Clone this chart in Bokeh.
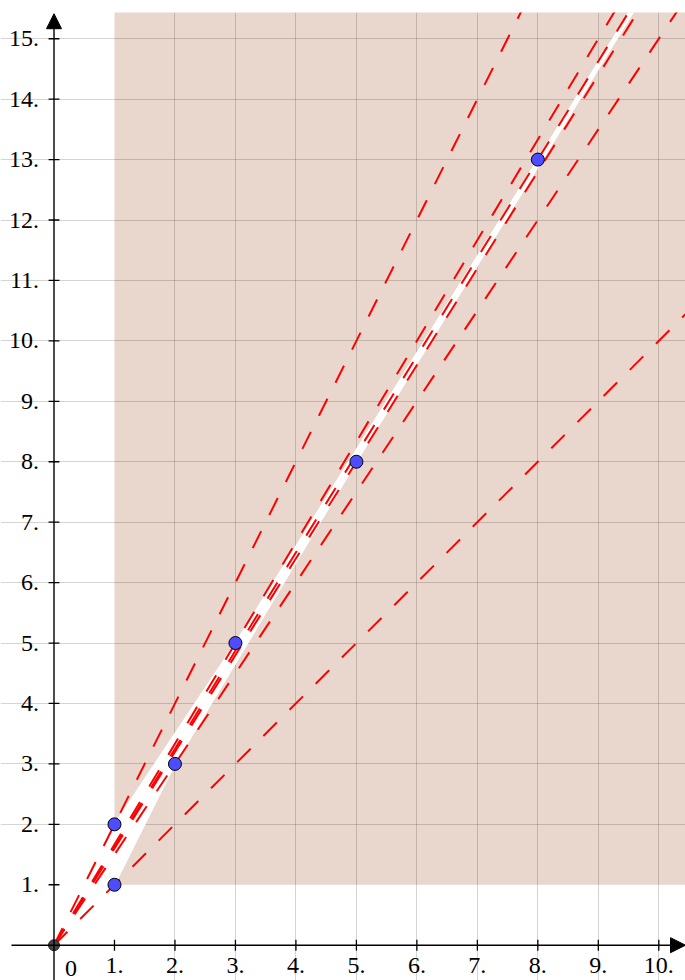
from bokeh.plotting import figure
from bokeh.models import Arrow, NormalHead, FixedTicker, Grid
from bokeh.core.properties import value
from bokeh.embed import file_html
from bokeh.resources import INLINE

# ---- data ----
pts_x = [1, 1, 2, 3, 5, 8]
pts_y = [1, 2, 3, 5, 8, 13]
ext_x = [13, 21]          # next Fibonacci pairs (outside the view) closing the white band
ext_y = [21, 34]
region_left = 1
region_bottom = 1
x_ticks = [1, 2, 3, 4, 5, 6, 7, 8, 9, 10]
x_tick_labels = ["1.", "2.", "3.", "4.", "5.", "6.", "7.", "8.", "9.", "10."]
y_ticks = [1, 2, 3, 4, 5, 6, 7, 8, 9, 10, 11, 12, 13, 14, 15]
y_tick_labels = ["1.", "2.", "3.", "4.", "5.", "6.", "7.", "8.", "9.", "10.",
                 "11.", "12.", "13.", "14.", "15."]
grid_x = [2, 3, 4, 5, 6, 7, 8, 9, 10]
grid_y = [2, 3, 4, 5, 6, 7, 8, 9, 10, 11, 12, 13, 14, 15]

X0, X1 = -0.8846, 10.4415
Y0, Y1 = -0.5842, 15.434
FONT = value("Liberation Serif")

p = figure(width=685, height=980, x_range=(X0, X1), y_range=(Y0, Y1),
           output_backend="svg", toolbar_location=None,
           min_border=0, min_border_top=12,
           x_axis_type=None, y_axis_type=None)
p.outline_line_color = None
p.background_fill_color = "white"

# shaded region x>=1, y>=1
p.quad(left=[region_left], bottom=[region_bottom], right=[100], top=[100],
       fill_color="#e9d6cd", line_color=None, level="image")

# grid
for dim, ticks in ((0, grid_x), (1, grid_y)):
    g = Grid(dimension=dim, ticker=FixedTicker(ticks=ticks),
             grid_line_color="black", grid_line_alpha=0.17, grid_line_width=1)
    p.add_layout(g)

# white band polygon
band_x = [pts_x[0], pts_x[1], pts_x[3], pts_x[5], ext_x[1], ext_x[0], pts_x[4], pts_x[2]]
band_y = [pts_y[0], pts_y[1], pts_y[3], pts_y[5], ext_y[1], ext_y[0], pts_y[4], pts_y[2]]
p.patch(band_x, band_y, fill_color="white", line_color="white", line_width=1.5)

# axes
p.add_layout(Arrow(x_start=-0.703, y_start=0, x_end=X1, y_end=0,
                   line_color="black", line_width=1.4,
                   end=NormalHead(size=15, fill_color="black", line_color="black")))
p.add_layout(Arrow(x_start=0, y_start=Y0, x_end=0, y_end=Y1 - 0.02,
                   line_color="black", line_width=1.4,
                   end=NormalHead(size=15, fill_color="black", line_color="black")))
tk = 0.09
p.segment(x0=x_ticks, y0=[-tk] * len(x_ticks), x1=x_ticks, y1=[tk] * len(x_ticks),
          line_color="black", line_width=1.3)
p.segment(x0=[-tk] * len(y_ticks), y0=y_ticks, x1=[tk] * len(y_ticks), y1=y_ticks,
          line_color="black", line_width=1.3)

# rays from origin through each point
k = 20
p.segment(x0=[0] * len(pts_x), y0=[0] * len(pts_y),
          x1=[x * k for x in pts_x], y1=[y * k for y in pts_y],
          line_color="#ff0000", line_width=2, line_dash="19 18")

# points
p.scatter(x=pts_x, y=pts_y, size=13, fill_color="#4d4dff", line_color="black", line_width=1)
p.scatter(x=[0], y=[0], size=11, fill_color="#444444", line_color="#222222", line_width=1)

# tick labels
p.text(x=x_ticks, y=[0] * len(x_ticks), text=x_tick_labels, text_font=FONT,
       text_font_size="24px", text_align="center", text_baseline="top",
       y_offset=13, text_color="black")
p.text(x=[0] * len(y_ticks), y=y_ticks, text=y_tick_labels, text_font=FONT,
       text_font_size="24px", text_align="right", text_baseline="middle",
       x_offset=-15, text_color="black")
p.text(x=[0], y=[0], text=["0"], text_font=FONT, text_font_size="24px",
       text_align="center", text_baseline="top", x_offset=17, y_offset=16,
       text_color="black")

open("out.html", "w").write(file_html(p, INLINE))
